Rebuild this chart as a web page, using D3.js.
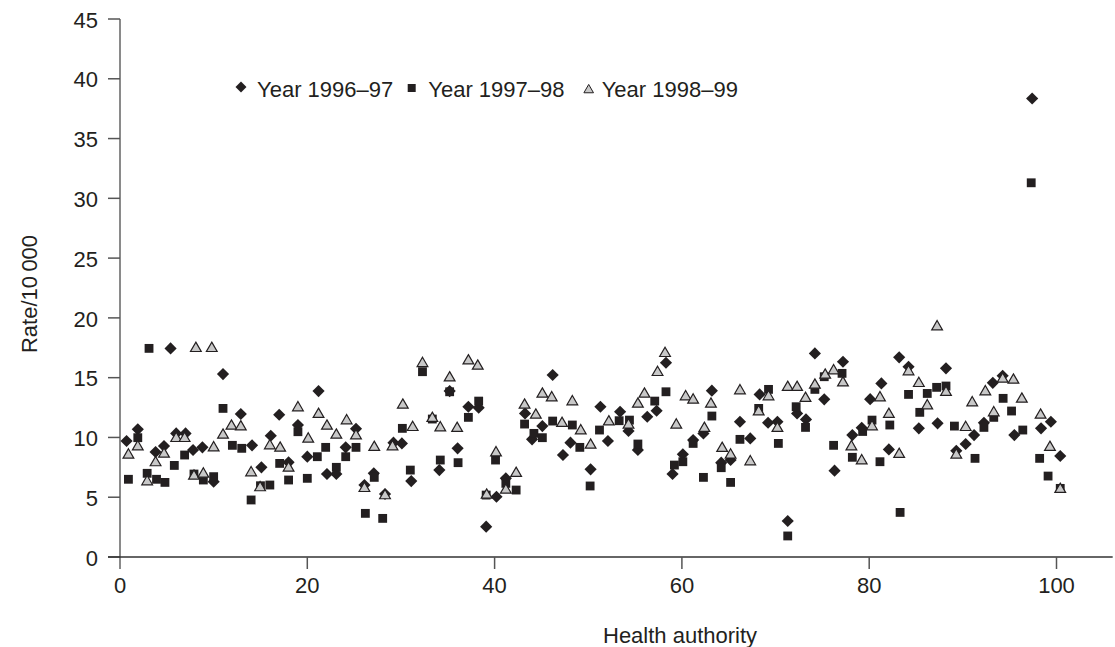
<!DOCTYPE html>
<html>
<head>
<meta charset="utf-8">
<script src="https://cdn.jsdelivr.net/npm/d3@7/dist/d3.min.js"></script>
<style>
  html, body { margin: 0; padding: 0; background: #ffffff; }
  svg { display: block; }
  text { font-family: "Liberation Sans", Arial, Helvetica, sans-serif; fill: #231f20; }
</style>
</head>
<body>
<svg id="chart" width="1115" height="647"></svg>
<script>
// ---- Data ----
const seriesNames = ["Year 1996\u201397", "Year 1997\u201398", "Year 1998\u201399"];
const xTicks = [0, 20, 40, 60, 80, 100];
const yTicks = [0, 5, 10, 15, 20, 25, 30, 35, 40, 45];

// Year 1996-97 (diamonds): health authority index, rate per 10 000
const auth9697 = [0.7,1.9,3.8,4.7,5.4,6.0,7.0,7.8,8.8,10.0,11.0,12.9,14.1,15.1,16.1,17.0,18.0,19.0,20.0,21.2,22.1,23.1,24.1,25.2,26.1,27.1,28.3,29.2,30.1,31.1,34.1,35.2,36.05,37.2,38.3,39.1,40.2,41.2,43.25,44.0,45.1,46.2,47.3,48.1,50.25,51.3,52.1,53.4,54.3,55.3,56.3,57.3,58.3,59.0,60.1,61.2,62.3,63.2,64.2,65.2,66.2,67.3,68.3,69.2,70.2,71.3,72.3,73.25,74.2,75.2,76.3,77.2,78.2,79.2,80.1,81.3,82.1,83.2,84.2,85.3,87.3,88.2,89.3,90.3,91.2,92.25,93.2,94.25,95.5,97.4,98.35,99.4,100.4];
const rate9697 = [9.70,10.68,8.78,9.28,17.45,10.34,10.34,8.95,9.17,6.30,15.30,11.96,9.34,7.50,10.14,11.90,7.92,11.04,8.39,13.88,6.94,6.94,9.17,10.73,6.02,7.00,5.27,9.56,9.50,6.35,7.27,13.88,9.09,12.57,12.49,2.54,5.04,6.58,12.01,9.84,10.95,15.22,8.53,9.56,7.33,12.57,9.70,12.15,10.54,8.95,11.73,12.23,16.25,6.94,8.59,9.78,10.34,13.91,7.89,8.11,11.31,9.92,13.60,11.23,11.31,3.01,12.01,11.51,17.03,13.19,7.22,16.33,10.20,10.81,13.20,14.52,9.00,16.70,15.91,10.76,11.18,15.78,8.89,9.45,10.20,11.23,14.57,15.16,10.20,38.35,10.76,11.31,8.45];

// Year 1997-98 (squares)
const auth9798 = [0.9,1.9,2.9,3.1,3.9,4.8,5.8,6.9,7.9,8.9,10.0,11.0,12.0,13.0,14.0,15.0,16.0,17.05,18.0,19.0,20.0,21.07,21.96,23.1,24.1,25.2,26.2,27.15,28.05,30.15,31.0,32.3,33.35,34.2,35.2,36.1,37.2,38.3,39.1,40.1,41.2,42.3,43.2,44.2,45.1,46.2,48.3,49.1,50.2,51.2,53.3,54.4,55.3,57.1,58.3,59.2,60.1,61.2,62.3,63.2,64.2,65.2,66.2,68.2,69.25,70.3,71.3,72.2,73.2,74.2,75.2,76.2,77.1,78.2,79.3,80.3,81.15,82.2,83.3,84.2,85.4,86.2,87.2,88.2,89.1,91.3,92.25,93.3,94.3,95.2,96.4,97.3,98.2,99.1,100.4];
const rate9798 = [6.50,9.98,7.00,17.45,6.50,6.24,7.66,8.53,6.94,6.44,6.72,12.43,9.34,9.09,4.77,5.96,6.02,7.83,6.44,10.48,6.58,8.39,9.17,7.50,8.39,9.17,3.65,6.66,3.23,10.76,7.27,15.50,11.54,8.11,13.82,7.89,11.68,13.04,5.18,8.11,6.16,5.60,11.12,10.34,9.98,11.37,11.04,9.17,5.94,10.62,11.40,11.45,9.45,13.04,13.82,7.69,7.97,9.50,6.66,11.79,7.47,6.24,9.84,12.43,14.02,9.50,1.76,12.57,10.84,14.02,15.08,9.34,15.36,8.34,10.50,11.45,7.97,11.04,3.73,13.60,12.10,13.68,14.19,14.30,10.95,8.25,10.84,11.68,13.27,12.21,10.62,31.30,8.25,6.77,5.74];

// Year 1998-99 (triangles)
const auth9899 = [0.9,1.9,2.9,3.8,4.7,6.0,6.9,7.9,8.1,8.9,9.8,10.0,11.0,11.9,12.9,14.0,14.96,16.0,17.1,18.0,19.0,20.1,21.2,22.1,23.1,24.2,25.2,26.1,27.15,28.3,29.1,30.2,31.25,32.3,33.35,34.2,35.2,36.0,37.2,38.2,39.15,40.15,41.2,42.3,43.2,44.4,45.1,46.1,47.2,48.3,49.2,50.25,52.2,54.3,55.3,56.0,57.4,58.2,59.4,60.4,61.2,62.4,63.1,64.3,65.2,66.2,67.3,68.2,69.25,70.2,71.3,72.3,73.2,74.2,75.3,76.2,77.2,78.1,79.2,80.3,81.15,82.1,83.2,84.2,85.3,86.2,87.25,88.2,89.3,90.3,91.0,92.4,93.3,94.25,95.4,96.3,98.3,99.3,100.4];
const rate9899 = [8.53,9.22,6.30,7.89,8.61,9.92,9.92,6.77,17.45,6.94,17.45,9.14,10.20,10.95,10.89,7.05,5.80,9.31,9.11,7.44,12.49,9.87,11.93,10.95,10.20,11.40,10.14,5.74,9.17,5.13,9.22,12.71,10.84,16.19,11.60,10.81,14.99,10.76,16.41,15.97,5.18,8.72,5.60,7.00,12.71,11.87,13.63,13.32,11.18,12.99,10.56,9.36,11.31,11.04,12.79,13.63,15.44,17.03,11.04,13.41,13.13,10.76,12.79,9.09,8.53,13.91,7.97,12.15,13.41,10.76,14.19,14.19,13.27,14.38,15.22,15.58,14.57,9.22,8.05,10.90,13.32,11.93,8.59,15.50,14.52,12.65,19.26,13.77,8.53,10.84,12.90,13.82,12.07,14.88,14.80,13.21,11.87,9.17,5.66];

// ---- Chart ----
const svg = d3.select("#chart");
const ink = "#231f20";

const x = d3.scaleLinear().domain([0, 106]).range([120, 120 + 106 * 9.365]);
const y = d3.scaleLinear().domain([0, 45]).range([557, 19]);

const zip = (xs, ys) => xs.map((v, i) => ({ x: v, y: ys[i] }));
const d9697 = zip(auth9697, rate9697);
const d9798 = zip(auth9798, rate9798);
const d9899 = zip(auth9899, rate9899);

// Y axis
const yAxis = svg.append("g");
yAxis.append("line")
  .attr("x1", x(0)).attr("x2", x(0))
  .attr("y1", y(45)).attr("y2", y(0) + 12)
  .attr("stroke", "#8a8a8a").attr("stroke-width", 2);
yAxis.selectAll("line.tick").data(yTicks).join("line")
  .attr("class", "tick")
  .attr("x1", x(0) - 12).attr("x2", x(0))
  .attr("y1", d => y(d)).attr("y2", d => y(d))
  .attr("stroke", "#555").attr("stroke-width", 1.5);
yAxis.selectAll("text").data(yTicks).join("text")
  .attr("x", 98).attr("y", d => y(d) + 1)
  .attr("dy", "0.35em")
  .attr("text-anchor", "end")
  .attr("font-size", 22)
  .text(d => d);

// X axis
const xAxis = svg.append("g");
xAxis.append("line")
  .attr("x1", x(0) - 12).attr("x2", x(106))
  .attr("y1", y(0)).attr("y2", y(0))
  .attr("stroke", "#333").attr("stroke-width", 1.5);
xAxis.selectAll("line.tick").data(xTicks.filter(d => d !== 0)).join("line")
  .attr("class", "tick")
  .attr("x1", d => x(d)).attr("x2", d => x(d))
  .attr("y1", y(0)).attr("y2", y(0) + 12)
  .attr("stroke", "#555").attr("stroke-width", 1.5);
xAxis.selectAll("text").data(xTicks).join("text")
  .attr("x", d => x(d)).attr("y", 593)
  .attr("text-anchor", "middle")
  .attr("font-size", 22)
  .text(d => d);

// Axis titles
svg.append("text")
  .attr("x", 603).attr("y", 643)
  .attr("font-size", 22)
  .text("Health authority");
svg.append("text")
  .attr("transform", "translate(37,294) rotate(-90)")
  .attr("text-anchor", "middle")
  .attr("font-size", 22)
  .text("Rate/10\u2009000");

// Marker generators
const diamondPath = d3.symbol(d3.symbolSquare, 74)();
const squarePath = d3.symbol(d3.symbolSquare, 78)();
const trianglePath = d3.symbol(d3.symbolTriangle, 50)();

const plot = svg.append("g");
plot.selectAll("path.d").data(d9697).join("path")
  .attr("class", "d")
  .attr("d", diamondPath)
  .attr("transform", d => `translate(${x(d.x)},${y(d.y)}) rotate(45)`)
  .attr("fill", ink);
plot.selectAll("path.s").data(d9798).join("path")
  .attr("class", "s")
  .attr("d", squarePath)
  .attr("transform", d => `translate(${x(d.x)},${y(d.y)})`)
  .attr("fill", ink);
plot.selectAll("path.t").data(d9899).join("path")
  .attr("class", "t")
  .attr("d", trianglePath)
  .attr("transform", d => `translate(${x(d.x)},${y(d.y)})`)
  .attr("fill", "#c8c8c8")
  .attr("stroke", ink).attr("stroke-width", 1.2);

// Legend
const legend = svg.append("g");
const legItems = [
  { name: seriesNames[0], mx: 241, tx: 257, kind: "d" },
  { name: seriesNames[1], mx: 411.7, tx: 428.3, kind: "s" },
  { name: seriesNames[2], mx: 588.7, tx: 601.7, kind: "t" }
];
legItems.forEach(it => {
  if (it.kind === "d") {
    legend.append("path").attr("d", d3.symbol(d3.symbolSquare, 60)())
      .attr("transform", `translate(${it.mx},87) rotate(45)`).attr("fill", ink);
  } else if (it.kind === "s") {
    legend.append("path").attr("d", d3.symbol(d3.symbolSquare, 64)())
      .attr("transform", `translate(${it.mx},88)`).attr("fill", ink);
  } else {
    legend.append("path").attr("d", d3.symbol(d3.symbolTriangle, 40)())
      .attr("transform", `translate(${it.mx},90)`)
      .attr("fill", "#c8c8c8").attr("stroke", ink).attr("stroke-width", 1);
  }
  legend.append("text").attr("x", it.tx).attr("y", 96.5)
    .attr("font-size", 22).text(it.name);
});
</script>
</body>
</html>
